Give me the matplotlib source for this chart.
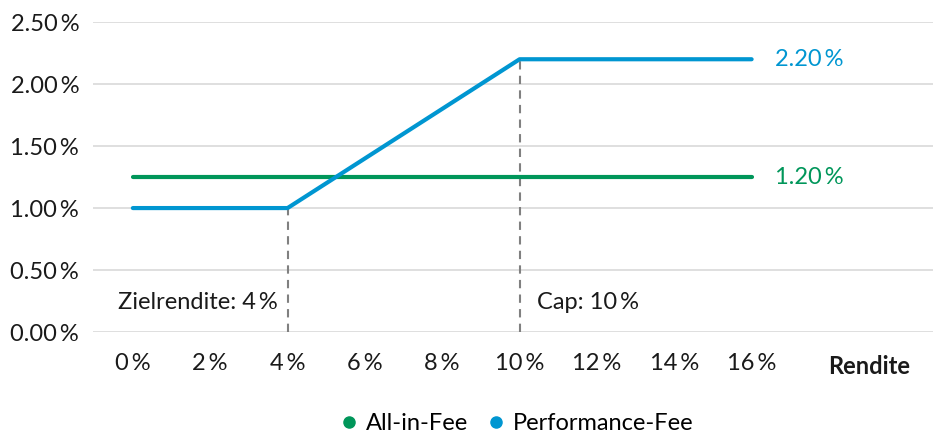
import matplotlib

matplotlib.use("Agg")
import matplotlib.pyplot as plt
from matplotlib.lines import Line2D
from matplotlib.transforms import blended_transform_factory

plt.rcParams["font.family"] = ["Lato", "DejaVu Sans"]

# data
rendite = [0, 2, 4, 6, 8, 10, 12, 14, 16]
all_in_fee = [1.25, 1.25, 1.25, 1.25, 1.25, 1.25, 1.25, 1.25, 1.25]
performance_fee = [1.00, 1.00, 1.00, 1.40, 1.80, 2.20, 2.20, 2.20, 2.20]
y_ticks = [0.0, 0.5, 1.0, 1.5, 2.0, 2.5]
zielrendite, zielrendite_fee = 4, 1.00
cap, cap_fee = 10, 2.20
all_in_label = "1.20\u2009%"
perf_label = "2.20\u2009%"

GREEN = "#00965a"
BLUE = "#0096d1"
GRID = "#d9d9d9"
TXT = "#1a1a1a"
FS = 17

fig = plt.figure(figsize=(9.33, 4.41), dpi=100)
ax = fig.add_axes([0.0997, 0.247, 0.9003, 0.703])

ax.plot(rendite, all_in_fee, color=GREEN, lw=3, solid_capstyle="round", zorder=3)
ax.plot(rendite, performance_fee, color=BLUE, lw=3, solid_capstyle="round", zorder=3)

# dashed markers for target return and cap
ax.plot([zielrendite, zielrendite], [0, zielrendite_fee], color="#808080", lw=1.5, ls=(0, (4, 3)), zorder=2)
ax.plot([cap, cap], [0, cap_fee], color="#808080", lw=1.5, ls=(0, (4, 3)), zorder=2)
ax.text(zielrendite - 0.26, 0.24, "Zielrendite: 4\u2009%", ha="right", va="center", fontsize=FS, color=TXT)
ax.text(cap + 0.44, 0.24, "Cap: 10\u2009%", ha="left", va="center", fontsize=FS, color=TXT)

# end labels
ax.annotate(perf_label, (rendite[-1], performance_fee[-1]), xytext=(17, 0), textcoords="offset points",
            va="center", ha="left", color=BLUE, fontsize=FS)
ax.annotate(all_in_label, (rendite[-1], all_in_fee[-1]), xytext=(17, 0), textcoords="offset points",
            va="center", ha="left", color=GREEN, fontsize=FS)

ax.set_xlim(-1.03, 20.69)
ax.set_ylim(0, 2.5)
ax.set_yticks(y_ticks)
ax.set_yticklabels([f"{v:.2f}\u2009%" for v in y_ticks], fontsize=FS, color=TXT)
ax.set_xticks(rendite)
ax.set_xticklabels([f"{v}\u2009%" for v in rendite], fontsize=FS, color=TXT)
ax.tick_params(axis="x", length=0, pad=15)
ax.tick_params(axis="y", length=0, pad=10)
ax.yaxis.grid(True, color=GRID, lw=1.2)
ax.set_axisbelow(True)
for s in ax.spines.values():
    s.set_visible(False)

trans = blended_transform_factory(ax.transData, ax.transAxes)
ax.text(19.04, -0.11, "Rendite", transform=trans, ha="center", va="center", fontsize=FS,
        fontweight="bold", color=TXT)

handles = [
    Line2D([0], [0], marker="o", color="none", markerfacecolor=GREEN, markeredgecolor=GREEN, markersize=8, label="All-in-Fee"),
    Line2D([0], [0], marker="o", color="none", markerfacecolor=BLUE, markeredgecolor=BLUE, markersize=8, label="Performance-Fee"),
]
fig.legend(handles=handles, loc="center", bbox_to_anchor=(0.551, 0.04), ncol=2, frameon=False,
           fontsize=FS, handletextpad=0.1, columnspacing=0.6, handlelength=1.2)

fig.savefig("out.png", dpi=100)
